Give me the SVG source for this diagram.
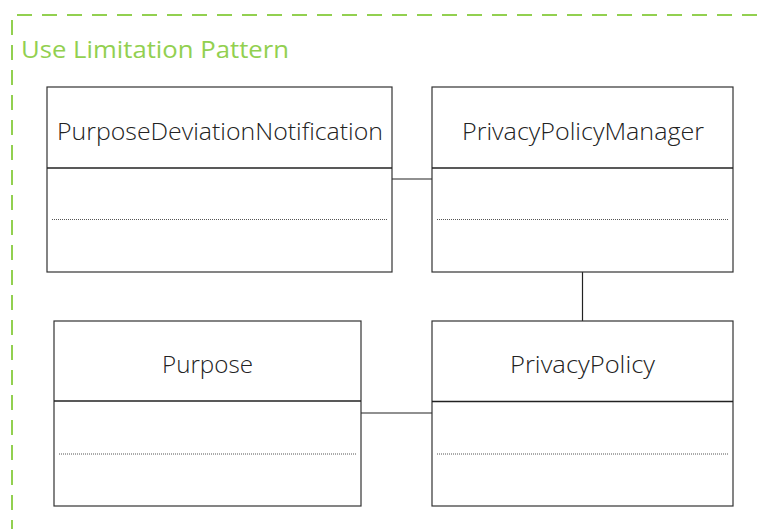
<svg xmlns="http://www.w3.org/2000/svg" width="757" height="529" viewBox="0 0 757 529">
<style>
.frame{fill:none;stroke:#92D050;stroke-width:2;stroke-dasharray:15 10}
.title{font-family:"Open Sans","Noto Sans","Liberation Sans",sans-serif;font-size:23px;fill:#92D050}
.box{fill:#fff;stroke:#333;stroke-width:1.2}
.div{stroke:#222;stroke-width:1.3}
.dot{stroke:#555;stroke-width:1;stroke-dasharray:1 1}
.name{font-family:"Open Sans","Noto Sans","Liberation Sans",sans-serif;font-weight:300;font-size:23px;fill:#222;text-anchor:middle}
.conn{stroke:#222;stroke-width:1.2;fill:none}
</style>
<rect width="757" height="529" fill="#fff"/>
<path class="frame" d="M757 15 H12 V529"/>
<text class="title" x="21" y="58" textLength="268" lengthAdjust="spacingAndGlyphs">Use Limitation Pattern</text>
<g id="connectors">
<line class="conn" x1="392" y1="179" x2="432" y2="179"/>
<line class="conn" x1="582.5" y1="272" x2="582.5" y2="321"/>
<line class="conn" x1="361" y1="413" x2="432" y2="413"/>
</g>
<g id="PurposeDeviationNotification">
<rect class="box" x="47" y="87" width="345" height="185"/>
<line class="div" x1="47" y1="168" x2="392" y2="168"/>
<line class="dot" x1="52" y1="219.5" x2="387" y2="219.5"/>
<text class="name" x="220" y="140" textLength="326" lengthAdjust="spacingAndGlyphs">PurposeDeviationNotification</text>
</g>
<g id="PrivacyPolicyManager">
<rect class="box" x="432" y="87" width="301" height="185"/>
<line class="div" x1="432" y1="168" x2="733" y2="168"/>
<line class="dot" x1="437" y1="219.5" x2="728" y2="219.5"/>
<text class="name" x="583" y="140" textLength="242" lengthAdjust="spacingAndGlyphs">PrivacyPolicyManager</text>
</g>
<g id="Purpose">
<rect class="box" x="54" y="321" width="307" height="185"/>
<line class="div" x1="54" y1="401" x2="361" y2="401"/>
<line class="dot" x1="59" y1="454" x2="356" y2="454"/>
<text class="name" x="207.5" y="373" textLength="91" lengthAdjust="spacingAndGlyphs">Purpose</text>
</g>
<g id="PrivacyPolicy">
<rect class="box" x="432" y="321" width="301" height="185"/>
<line class="div" x1="432" y1="401.5" x2="733" y2="401.5"/>
<line class="dot" x1="437" y1="454" x2="728" y2="454"/>
<text class="name" x="582.5" y="373" textLength="145" lengthAdjust="spacingAndGlyphs">PrivacyPolicy</text>
</g>
</svg>
